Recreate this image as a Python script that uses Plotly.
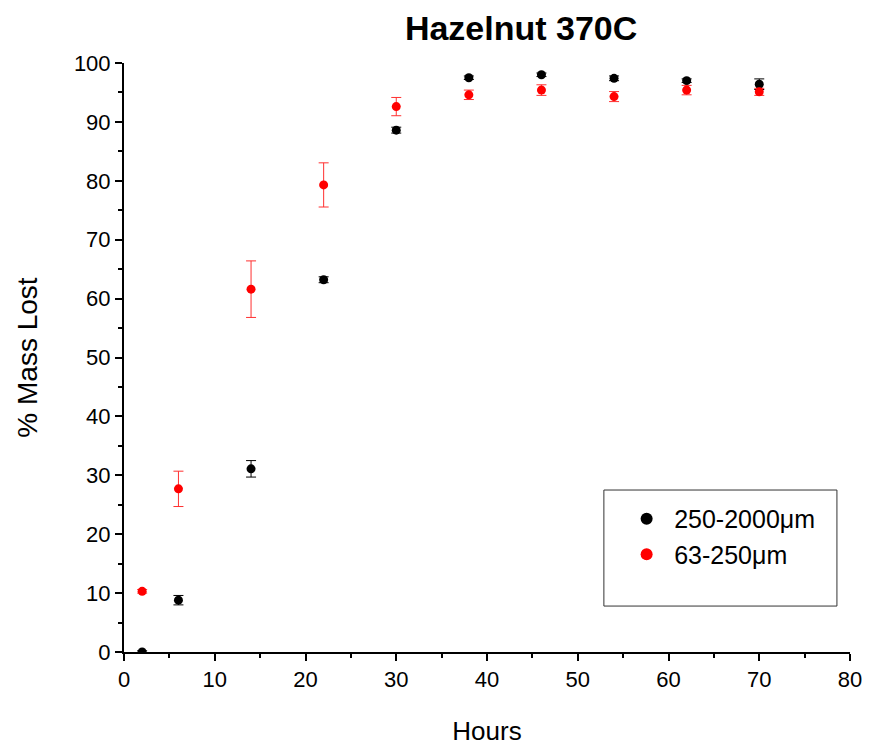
import plotly.graph_objects as go

hours = [2, 6, 14, 22, 30, 38, 46, 54, 62, 70]
coarse = [0.0, 8.8, 31.1, 63.2, 88.6, 97.5, 98.0, 97.4, 97.0, 96.4]
coarse_err = [0.2, 0.8, 1.4, 0.5, 0.5, 0.3, 0.3, 0.4, 0.3, 0.9]
fine = [10.3, 27.7, 61.6, 79.3, 92.6, 94.6, 95.4, 94.3, 95.4, 95.1]
fine_err = [0.3, 3.0, 4.8, 3.75, 1.55, 0.8, 0.9, 0.85, 0.8, 0.6]

font = "Liberation Sans, Arial, sans-serif"

fig = go.Figure()
fig.add_trace(go.Scatter(
    x=hours, y=coarse, mode="markers", name="250-2000μm",
    marker=dict(color="black", size=9),
    error_y=dict(type="data", array=coarse_err, color="black", thickness=1, width=5),
))
fig.add_trace(go.Scatter(
    x=hours, y=fine, mode="markers", name="63-250μm",
    marker=dict(color="red", size=9),
    error_y=dict(type="data", array=fine_err, color="#ff3030", thickness=1, width=5),
))

axis_common = dict(
    showgrid=False, zeroline=False, showline=True, linecolor="black", linewidth=2,
    ticks="outside", ticklen=7, tickwidth=2, tickcolor="black", automargin=False,
    tickfont=dict(family=font, size=22, color="black"),
)
minor = dict(dtick=5, ticks="outside", ticklen=4, tickwidth=2, tickcolor="black")

fig.update_layout(
    width=879, height=745,
    paper_bgcolor="white", plot_bgcolor="white",
    margin=dict(l=116, r=37, t=55, b=101),
    title=dict(text="<b>Hazelnut 370C</b>", x=0.547, xref="paper", xanchor="center",
               y=0.973, yref="container", yanchor="middle",
               font=dict(family=font, size=34, color="black")),
    xaxis=dict(range=[0, 80], dtick=10, minor=minor,
               title=dict(text="Hours", font=dict(family=font, size=26, color="black"), standoff=30),
               **axis_common),
    yaxis=dict(range=[0, 100], dtick=10, minor=minor,
               title=dict(text="% Mass Lost", font=dict(family=font, size=28, color="black"), standoff=28),
               **axis_common),
    showlegend=True,
    legend=dict(x=0.682, y=0.265, xanchor="left", yanchor="top",
                bgcolor="rgba(0,0,0,0)", borderwidth=0,
                font=dict(family=font, size=25, color="black"),
                itemsizing="constant", itemwidth=45),
    shapes=[dict(type="rect", xref="paper", yref="paper",
                 x0=0.661, x1=0.982, y0=0.078, y1=0.275,
                 line=dict(color="#333333", width=1), fillcolor="rgba(0,0,0,0)")],
)

fig.write_html("out.html")
